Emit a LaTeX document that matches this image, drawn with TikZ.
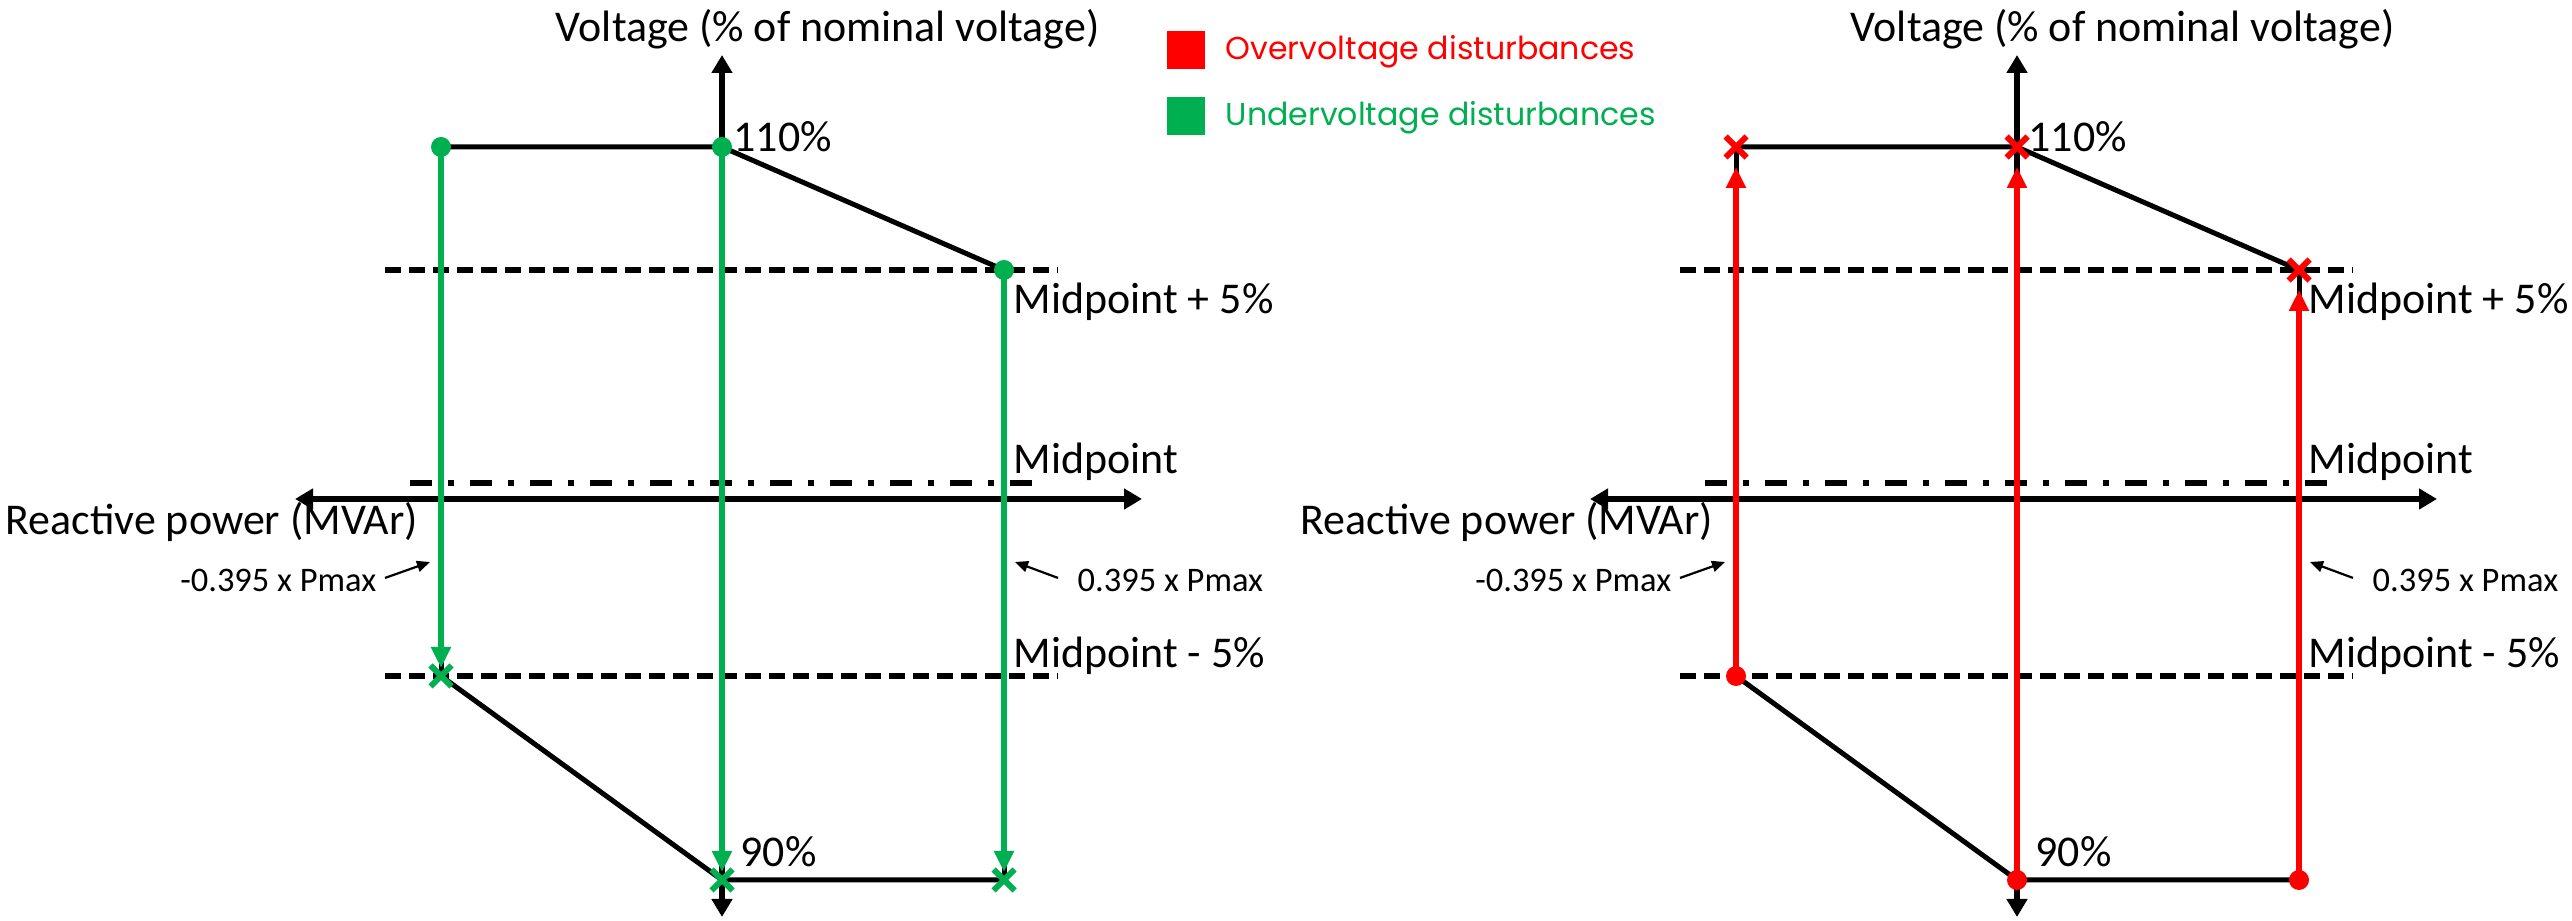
\documentclass[tikz,border=0pt]{standalone}
\usepackage{fontspec}
\setmainfont{Carlito}
\newfontfamily\legendfont{Poppins}
\usetikzlibrary{arrows.meta,shapes.misc}
\definecolor{ovred}{RGB}{255,0,0}
\definecolor{uvgreen}{RGB}{0,176,80}
\begin{document}
\begin{tikzpicture}
        [x=0.1mm,y=-0.1mm,
         axis/.style={line width=0.55mm,{Triangle[length=1.8mm,width=2mm]}-{Triangle[length=1.8mm,width=2mm]}},
         curve/.style={line width=0.5mm},
         limit/.style={line width=0.65mm,dash pattern=on 1.6mm off 0.8mm},
         midline/.style={line width=0.6mm,dash pattern=on 2.2mm off 1.6mm on 0.6mm off 1.6mm},
         lbl/.style={font=\fontsize{12.5}{15}\selectfont,inner sep=0pt,anchor=base west},
         note/.style={font=\fontsize{9.8}{12}\selectfont,inner sep=0pt},
         notearrow/.style={line width=0.22mm,-{Triangle[length=1.3mm,width=1.1mm]}},
         dist/.style={line width=0.6mm,-{Triangle[length=2.1mm,width=1.9mm]}},
         dotmk/.style={circle,fill,minimum size=2mm,inner sep=0pt},
         xmk/.style={cross out,draw,line width=0.6mm,minimum size=1.5mm,inner sep=0pt},
         legbox/.style={minimum size=3.8mm,inner sep=0pt},
         legtext/.style={font=\legendfont\fontsize{9}{11}\selectfont,inner sep=0pt,anchor=base west}]
        \useasboundingbox (0,0) rectangle (2572,921);

        \foreach \p/\s in {L/0,R/1295}
        {
        \coordinate (\p vtop) at (722+\s,55);
        \coordinate (\p vbot) at (722+\s,917);
        \coordinate (\p hl) at (295+\s,499);
        \coordinate (\p hr) at (1142+\s,499);
        \coordinate (\p a) at (441+\s,147);
        \coordinate (\p b) at (722+\s,147);
        \coordinate (\p c) at (1004+\s,270);
        \coordinate (\p d) at (441+\s,676);
        \coordinate (\p e) at (722+\s,880);
        \coordinate (\p f) at (1004+\s,880);
        \coordinate (\p nlt) at (430+\s,562);
        \coordinate (\p nrt) at (1015+\s,562);

        \draw[limit] (385+\s,270) -- (1058+\s,270);
        \draw[limit] (385+\s,676) -- (1058+\s,676);
        \draw[midline] (410+\s,483) -- (1045+\s,483);

        \draw[axis] (\p vtop) -- (\p vbot);
        \draw[axis] (\p hl) -- (\p hr);
        \draw[curve] (\p a) -- (\p b) -- (\p c);
        \draw[curve] (\p d) -- (\p e) -- (\p f);
        \draw[curve] (\p a) -- (\p d);
        \draw[curve] (\p c) -- (\p f);

        \node[lbl] (\p vlab) at (555+\s,42) {Voltage (\% of nominal voltage)};
        \node[lbl] (\p hi) at (733+\s,152) {110\%};
        \node[lbl] (\p lo) at (740+\s,867) {90\%};
        \node[lbl] (\p up) at (1013+\s,314) {Midpoint + 5\%};
        \node[lbl] (\p mid) at (1013+\s,474) {Midpoint};
        \node[lbl] (\p dn) at (1013+\s,668) {Midpoint - 5\%};
        \node[lbl] (\p hlab) at (5+\s,535) {Reactive power (MVAr)};
        \node[note,anchor=base east] (\p nl) at (377+\s,592) {-0.395 x Pmax};
        \node[note,anchor=base west] (\p nr) at (1077+\s,592) {0.395 x Pmax};
        \draw[notearrow] ([xshift=0.8mm,yshift=0.3mm]\p nl.east) -- (\p nlt);
        \draw[notearrow] ([xshift=-1.9mm,yshift=0.3mm]\p nr.west) -- (\p nrt);
        }

        \draw[dist,uvgreen,shorten >=0.8mm] (La) -- (Ld);
        \draw[dist,uvgreen,shorten >=0.8mm] (Lb) -- (Le);
        \draw[dist,uvgreen,shorten >=0.8mm] (Lc) -- (Lf);
        \foreach \q in {a,b,c} {\node[dotmk,uvgreen] at (L\q) {};}
        \foreach \q in {d,e,f} {\node[xmk,uvgreen] at (L\q) {};}

        \draw[dist,ovred,shorten >=2mm] (Rd) -- (Ra);
        \draw[dist,ovred,shorten >=2mm] (Re) -- (Rb);
        \draw[dist,ovred,shorten >=2mm] (Rf) -- (Rc);
        \foreach \q in {a,b,c} {\node[xmk,ovred] at (R\q) {};}
        \foreach \q in {d,e,f} {\node[dotmk,ovred] at (R\q) {};}

        \node[legbox,fill=ovred] (ovbox) at (1186,50) {};
        \node[legbox,fill=uvgreen] (uvbox) at (1186,116) {};
        \node[legtext,text=ovred] (ovtext) at (1225,60) {Overvoltage disturbances};
        \node[legtext,text=uvgreen] (uvtext) at (1225,126) {Undervoltage disturbances};
\end{tikzpicture}
\end{document}
